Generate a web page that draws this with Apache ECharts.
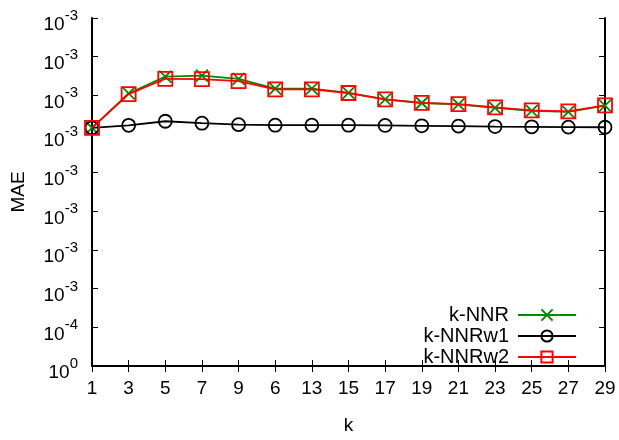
<!DOCTYPE html>
<html>
<head>
<meta charset="utf-8">
<script src="https://cdn.jsdelivr.net/npm/echarts@6/dist/echarts.min.js"></script>
<style>
  html, body { margin: 0; padding: 0; background: #fff; }
  #chart { width: 619px; height: 440px; }
</style>
</head>
<body>
<div id="chart"></div>
<script>
// x categories (as printed on the original axis)
const kLabels = ["1", "3", "5", "7", "9", "6", "13", "15", "17", "19", "21", "23", "25", "27", "29"];

// y tick exponents, bottom to top (labels printed as 10^exp)
const yTickExps = ["0", "-4", "-3", "-3", "-3", "-3", "-3", "-3", "-3", "-3"];
const yStep = 0.0005;

// MAE values
const knnr = [0.003080, 0.003524, 0.003743, 0.003756, 0.003714, 0.003587, 0.003587, 0.003533,
  0.003448, 0.003401, 0.003383, 0.003338, 0.003300, 0.003287, 0.003366];
const knnrw1 = [0.003080, 0.003112, 0.003165, 0.003140, 0.003121, 0.003114, 0.003114, 0.003114,
  0.003111, 0.003106, 0.003102, 0.003096, 0.003093, 0.003089, 0.003087];
const knnrw2 = [0.003080, 0.003515, 0.003714, 0.003710, 0.003685, 0.003578, 0.003578, 0.003530,
  0.003448, 0.003403, 0.003387, 0.003343, 0.003306, 0.003293, 0.003369];

const FONT = "Liberation Sans, Arial, sans-serif";
const GREEN = "#008a00";
const RED = "#ff0000";

const chart = echarts.init(document.getElementById("chart"));

const yLabelRich = {
  b: { fontSize: 19, fontFamily: FONT, color: "#000", verticalAlign: "bottom", lineHeight: 26 },
  s: { fontSize: 15, fontFamily: FONT, color: "#000", verticalAlign: "top", lineHeight: 26 }
};

const axisLine = { show: true, lineStyle: { color: "#000", width: 2 } };
const tick = { show: true, inside: true, length: 6, lineStyle: { color: "#000", width: 1 } };

chart.setOption({
  backgroundColor: "#fff",
  animation: false,
  grid: { left: 92, right: 14, top: 18, bottom: 67 },
  legend: {
    orient: "vertical",
    right: 37,
    top: 300,
    align: "right",
    itemWidth: 58,
    itemHeight: 14,
    itemGap: 1,
    textStyle: { fontSize: 20, fontFamily: FONT, color: "#000", padding: [0, 4, 0, 0] },
    data: ["k-NNR", "k-NNRw1", "k-NNRw2"]
  },
  xAxis: [
    {
      type: "category",
      data: kLabels,
      boundaryGap: false,
      name: "k",
      nameLocation: "middle",
      nameGap: 50,
      nameTextStyle: { fontSize: 19, fontFamily: FONT, color: "#000" },
      axisLine: axisLine,
      axisTick: tick,
      axisLabel: { fontSize: 19, fontFamily: FONT, color: "#000", margin: 13, interval: 0 },
      splitLine: { show: false }
    },
    {
      type: "category",
      data: kLabels,
      boundaryGap: false,
      position: "top",
      axisLine: axisLine,
      axisTick: tick,
      axisLabel: { show: false },
      splitLine: { show: false }
    }
  ],
  yAxis: [
    {
      type: "value",
      min: 0,
      max: 0.0045,
      interval: yStep,
      name: "MAE",
      nameLocation: "middle",
      nameGap: 64,
      nameTextStyle: { fontSize: 19, fontFamily: FONT, color: "#000" },
      axisLine: axisLine,
      axisTick: tick,
      axisLabel: {
        margin: 14,
        padding: [7, 0, 0, 0],
        formatter: v => "{b|10}{s|" + yTickExps[Math.round(v / yStep)] + "}",
        rich: yLabelRich
      },
      splitLine: { show: false }
    },
    {
      type: "value",
      min: 0,
      max: 0.0045,
      interval: yStep,
      position: "right",
      axisLine: axisLine,
      axisTick: tick,
      axisLabel: { show: false },
      splitLine: { show: false }
    }
  ],
  series: [
    {
      name: "k-NNR",
      type: "line",
      data: knnr,
      symbol: "path://M0,0L10,10M10,0L0,10",
      symbolSize: 12,
      itemStyle: { color: GREEN, borderColor: GREEN, borderWidth: 1.8 },
      lineStyle: { color: GREEN, width: 1.8 },
      z: 2
    },
    {
      name: "k-NNRw1",
      type: "line",
      data: knnrw1,
      symbol: "circle",
      symbolSize: 13,
      itemStyle: { color: "rgba(255,255,255,0)", borderColor: "#000", borderWidth: 1.8 },
      lineStyle: { color: "#000", width: 1.8 },
      z: 3
    },
    {
      name: "k-NNRw2",
      type: "line",
      data: knnrw2,
      symbol: "rect",
      symbolSize: 14,
      itemStyle: { color: "rgba(255,255,255,0)", borderColor: RED, borderWidth: 1.8 },
      lineStyle: { color: RED, width: 1.8 },
      z: 4
    }
  ]
});
</script>
</body>
</html>
